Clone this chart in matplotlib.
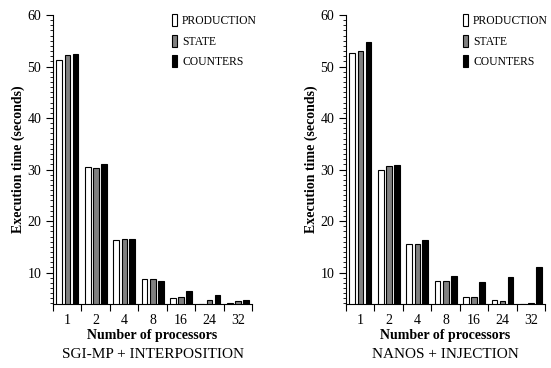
import matplotlib.pyplot as plt
import numpy as np
from matplotlib.patches import Patch

plt.rcParams["font.family"] = ["Liberation Serif", "DejaVu Serif"]

processors = ["1", "2", "4", "8", "16", "24", "32"]
series_names = ["PRODUCTION", "STATE", "COUNTERS"]
series_colors = ["white", "#808080", "black"]

sgi_production = [51.2, 30.4, 16.3, 8.8, 5.0, 3.9, 4.05]
sgi_state = [52.3, 30.3, 16.5, 8.7, 5.2, 4.6, 4.4]
sgi_counters = [52.4, 31.0, 16.5, 8.4, 6.4, 5.7, 4.6]

nanos_production = [52.6, 29.9, 15.6, 8.3, 5.3, 4.7, 3.95]
nanos_state = [53.0, 30.6, 15.5, 8.3, 5.3, 4.4, 4.05]
nanos_counters = [54.8, 30.8, 16.4, 9.3, 8.1, 9.1, 11.0]

panels = [
    ("SGI-MP + INTERPOSITION", [sgi_production, sgi_state, sgi_counters]),
    ("NANOS + INJECTION", [nanos_production, nanos_state, nanos_counters]),
]

fig = plt.figure(figsize=(5.51, 3.68), dpi=100)
ax_left = [53 / 551, 346 / 551]
legend_x = [0.555, 0.545]
offsets = [0.22, 0.51, 0.79]
bar_w = 0.2

for k, (title, data) in enumerate(panels):
    ax = fig.add_axes([ax_left[k], 64 / 368, 199 / 551, 289 / 368])
    x = np.arange(len(processors))
    for s, values in enumerate(data):
        ax.bar(x + offsets[s], values, width=bar_w, bottom=0, color=series_colors[s],
               edgecolor="black", linewidth=0.8)

    ax.set_ylim(3.9, 60)
    ax.set_xlim(0, len(processors))
    ax.set_yticks(np.arange(10, 61, 10))
    ax.set_yticks(np.arange(4, 61, 1), minor=True)
    ax.tick_params(axis="y", which="major", direction="out", length=5, width=0.8, labelsize=10)
    ax.tick_params(axis="y", which="minor", direction="out", length=2.5, width=0.6)

    ax.set_xticks(np.arange(0, len(processors) + 1))
    ax.set_xticklabels([""] * (len(processors) + 1))
    ax.set_xticks(x + 0.5, minor=True)
    ax.set_xticklabels(processors, minor=True)
    ax.tick_params(axis="x", which="major", direction="out", length=5, width=0.8)
    ax.tick_params(axis="x", which="minor", length=0, labelsize=10, pad=7)

    for side in ["top", "right"]:
        ax.spines[side].set_visible(False)
    ax.spines["left"].set_linewidth(0.8)
    ax.spines["bottom"].set_linewidth(0.8)

    ax.set_ylabel("Execution time (seconds)", fontsize=10, fontweight="bold", labelpad=2)
    ax.set_xlabel("Number of processors", fontsize=10, fontweight="bold", labelpad=1.5)
    ax.text(0.5, -0.152, title, transform=ax.transAxes, ha="center", va="top", fontsize=11)

    handles = [Patch(facecolor=c, edgecolor="black", linewidth=0.8) for c in series_colors]
    ax.legend(handles, series_names, loc="upper left", bbox_to_anchor=(legend_x[k], 1.03),
              frameon=False, fontsize=8.4, handlelength=0.5, handleheight=1.2,
              handletextpad=0.4, labelspacing=0.62, borderpad=0.2)

fig.savefig("out.png", dpi=100)
